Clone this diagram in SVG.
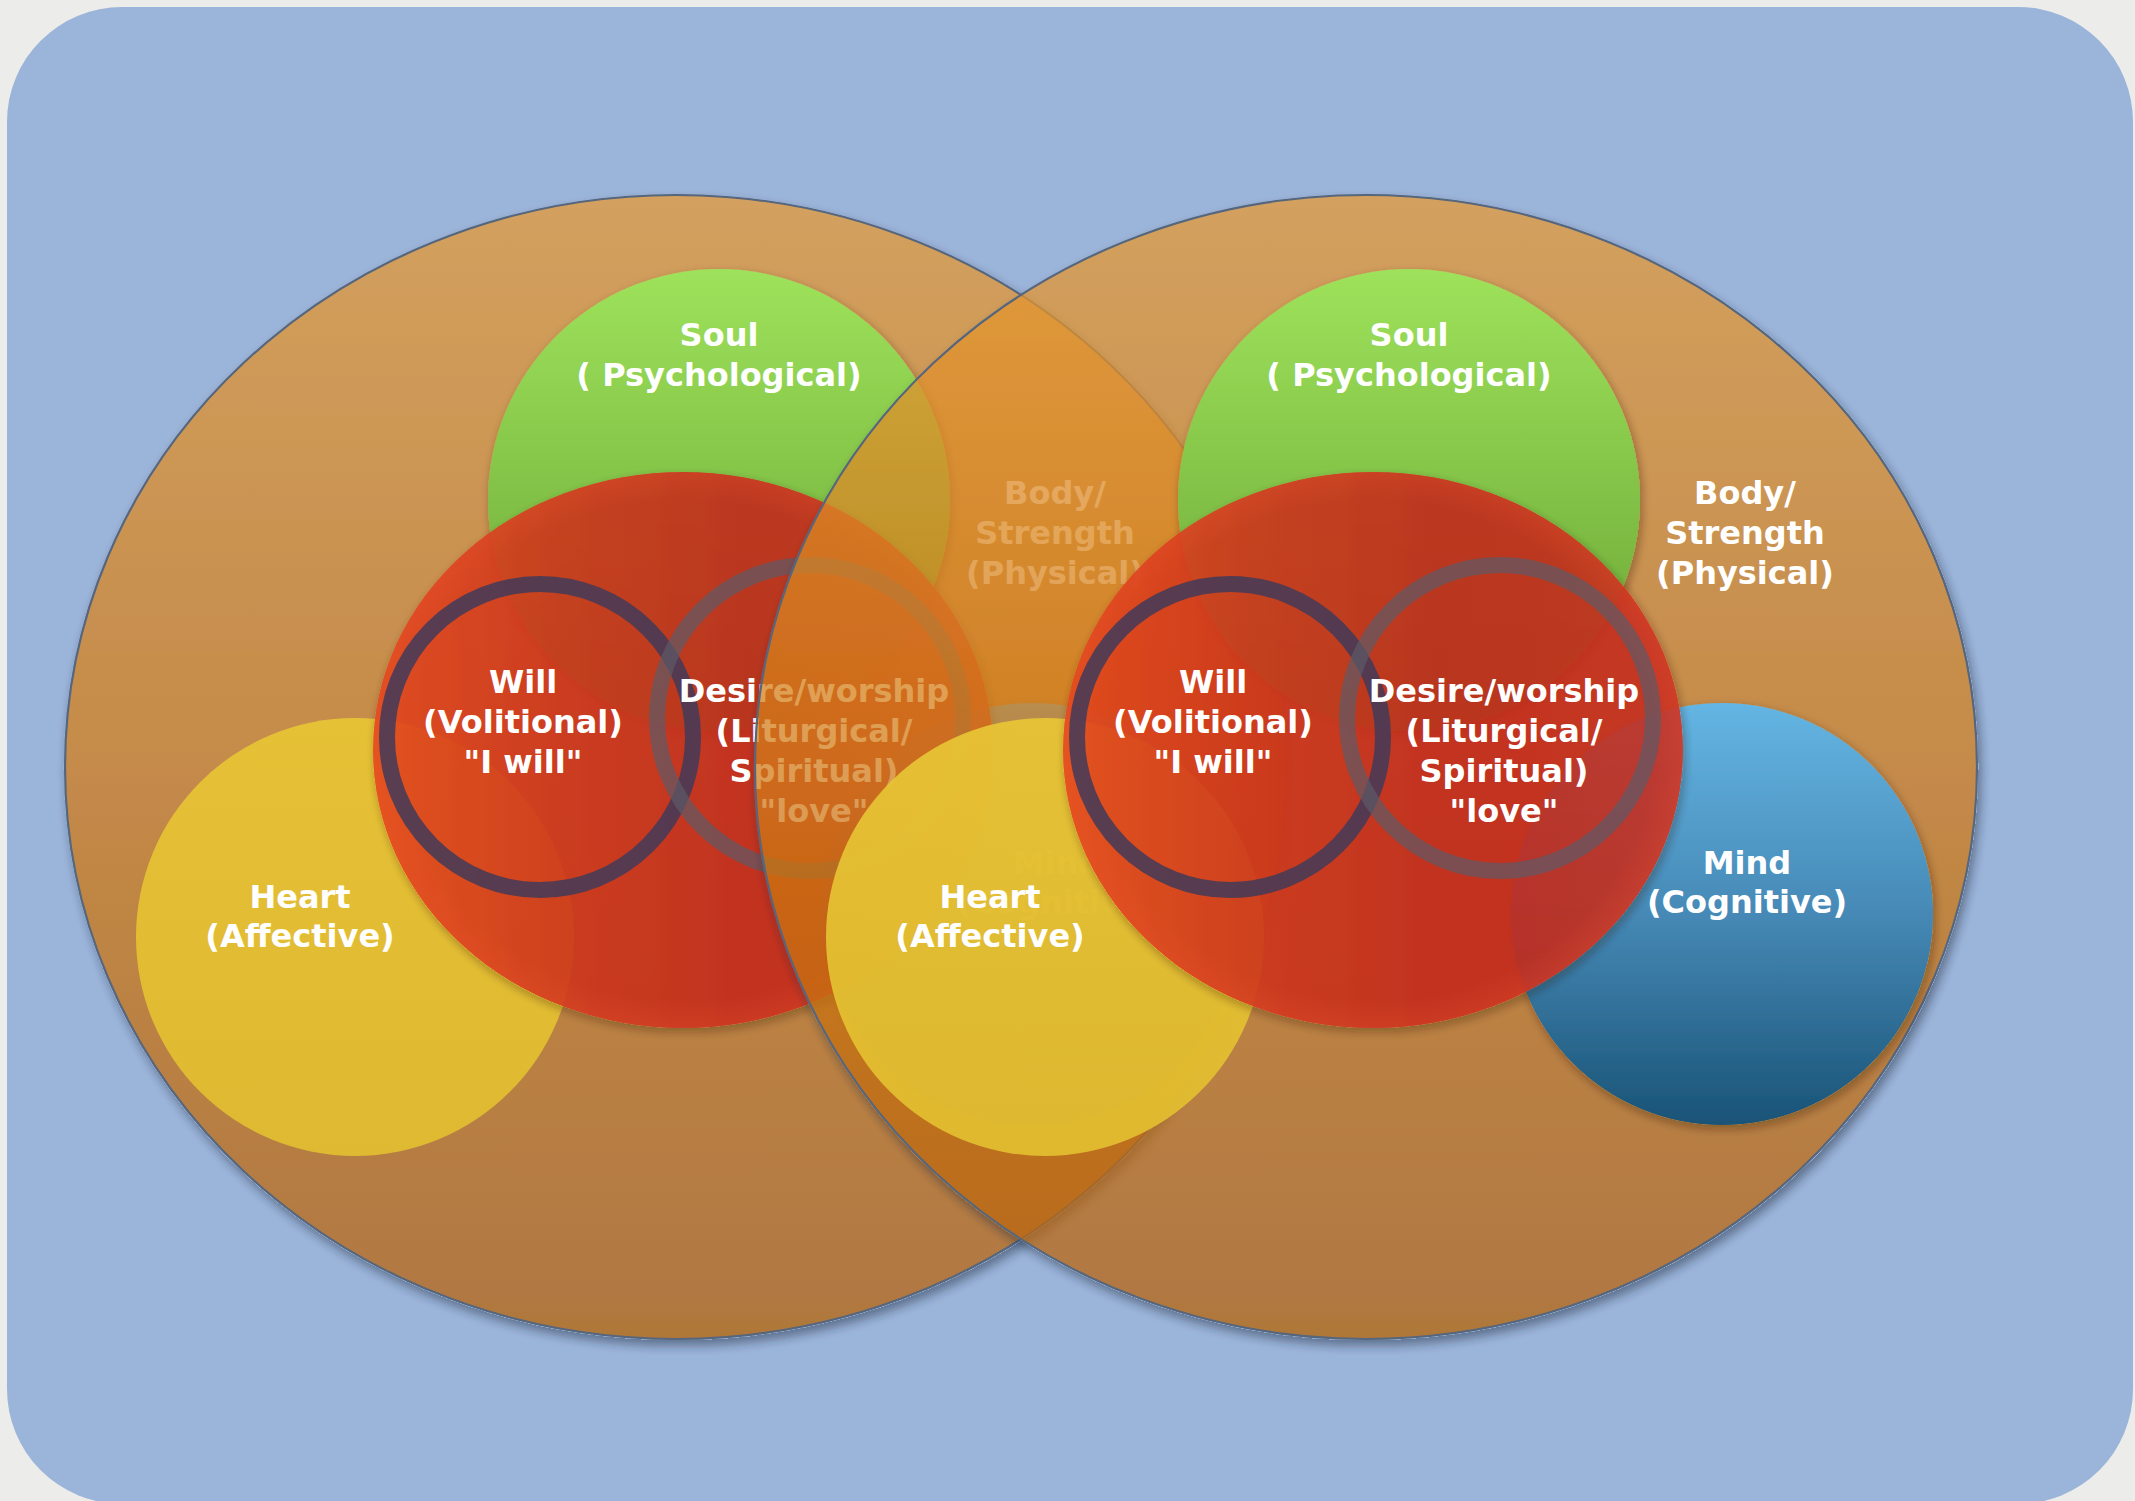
<svg xmlns="http://www.w3.org/2000/svg" width="2135" height="1501" viewBox="0 0 2135 1501">
  <defs>
    <linearGradient id="gBody" x1="0" y1="0" x2="0" y2="1">
      <stop offset="0" stop-color="#E69A35"/>
      <stop offset="0.5" stop-color="#D27C18"/>
      <stop offset="1" stop-color="#B66208"/>
    </linearGradient>
    <linearGradient id="gSoul" x1="0" y1="0" x2="0" y2="1">
      <stop offset="0" stop-color="#9EE25B"/>
      <stop offset="1" stop-color="#66A032"/>
    </linearGradient>
    <linearGradient id="gHeart" x1="0" y1="0" x2="0" y2="1">
      <stop offset="0" stop-color="#E8C535"/>
      <stop offset="1" stop-color="#E2BE30"/>
    </linearGradient>
    <linearGradient id="gMind" x1="0" y1="0" x2="0" y2="1">
      <stop offset="0" stop-color="#64B5E3"/>
      <stop offset="0.5" stop-color="#4689B6"/>
      <stop offset="1" stop-color="#195376"/>
    </linearGradient>
    <linearGradient id="gRed" x1="0" y1="0" x2="1" y2="0">
      <stop offset="0" stop-color="#E2461F"/>
      <stop offset="0.3" stop-color="#CD351F"/>
      <stop offset="0.6" stop-color="#C22B1E"/>
      <stop offset="1" stop-color="#C52E20"/>
    </linearGradient>
    <radialGradient id="gRim" cx="0.5" cy="0.5" r="0.5">
      <stop offset="0.9" stop-color="#F05530" stop-opacity="0"/>
      <stop offset="1" stop-color="#F05530" stop-opacity="0.22"/>
    </radialGradient>
    <filter id="shBig" x="-5%" y="-5%" width="112%" height="115%">
      <feComponentTransfer in="SourceAlpha" result="a"><feFuncA type="linear" slope="20"/></feComponentTransfer>
      <feGaussianBlur in="a" stdDeviation="5"/>
      <feOffset dx="3" dy="6" result="b"/>
      <feFlood flood-color="#1E2A40" flood-opacity="0.45"/>
      <feComposite in2="b" operator="in" result="s"/>
      <feComposite in="s" in2="a" operator="out" result="s2"/>
      <feMerge><feMergeNode in="s2"/><feMergeNode in="SourceGraphic"/></feMerge>
    </filter>
    <filter id="sh" x="-8%" y="-8%" width="120%" height="120%">
      <feComponentTransfer in="SourceAlpha" result="a"><feFuncA type="linear" slope="20"/></feComponentTransfer>
      <feGaussianBlur in="a" stdDeviation="4"/>
      <feOffset dx="2" dy="4" result="b"/>
      <feFlood flood-color="#2A1A00" flood-opacity="0.35"/>
      <feComposite in2="b" operator="in" result="s"/>
      <feComposite in="s" in2="a" operator="out" result="s2"/>
      <feMerge><feMergeNode in="s2"/><feMergeNode in="SourceGraphic"/></feMerge>
    </filter>
  </defs>
  <style>
    .body { fill: url(#gBody); fill-opacity: 0.75; stroke: #56667D; stroke-width: 2.2; }
    .soul { fill: url(#gSoul); }
    .heart { fill: url(#gHeart); opacity: 0.93; }
    .mind { fill: url(#gMind); }
    .red { fill: url(#gRed); opacity: 0.9; }
    .rim { fill: url(#gRim); }
    .will { fill: none; stroke: #463A58; stroke-width: 16; opacity: 0.88; }
    .desire { fill: none; stroke: #5E5A66; stroke-width: 16; opacity: 0.7; }
    text { font-family: "DejaVu Sans", "Liberation Sans", sans-serif; font-weight: bold; font-size: 32px; fill: #FFFFFF; text-anchor: middle; }
  </style>

  <rect x="0" y="0" width="2135" height="1501" fill="#ECECEA"/>
  <rect id="background" x="7" y="7" width="2126" height="1497" rx="115" ry="115" fill="#9BB4D9"/>

  <g id="person-left">
    <ellipse id="left-body" class="body" cx="676" cy="767" rx="611" ry="572" filter="url(#shBig)"/>
    <g id="left-soul">
      <circle class="soul" cx="719" cy="500" r="231" filter="url(#sh)"/>
    </g>
    <g id="left-heart">
      <circle class="heart" cx="355" cy="937" r="219"/>
    </g>
    <g id="left-mind">
      <circle class="mind" cx="1032" cy="914" r="211" filter="url(#sh)"/>
    </g>
    <g id="left-core">
      <ellipse class="red" cx="683" cy="750" rx="310" ry="278" filter="url(#sh)"/>
      <ellipse class="rim" cx="683" cy="750" rx="310" ry="278"/>
    </g>
    <g id="left-will">
      <circle class="will" cx="540" cy="737" r="153"/>
    </g>
    <g id="left-desire">
      <circle class="desire" cx="810" cy="718" r="153"/>
    </g>
    <g id="left-labels">
      <text x="719" y="346">Soul</text>
      <text x="719" y="386">( Psychological)</text>
      <text x="1055" y="504">Body/</text>
      <text x="1055" y="544">Strength</text>
      <text x="1055" y="584">(Physical)</text>
      <text x="523" y="693">Will</text>
      <text x="523" y="733">(Volitional)</text>
      <text x="523" y="773">"I will"</text>
      <text x="814" y="702">Desire/worship</text>
      <text x="814" y="742">(Liturgical/</text>
      <text x="814" y="782">Spiritual)</text>
      <text x="814" y="822">"love"</text>
      <text x="300" y="908">Heart</text>
      <text x="300" y="947">(Affective)</text>
      <text x="1057" y="874">Mind</text>
      <text x="1057" y="913">(Cognitive)</text>
    </g>
  </g>

  <g id="person-right" transform="translate(690,0)">
    <ellipse id="right-body" class="body" cx="676" cy="767" rx="611" ry="572" filter="url(#shBig)"/>
    <g id="right-soul">
      <circle class="soul" cx="719" cy="500" r="231" filter="url(#sh)"/>
    </g>
    <g id="right-heart">
      <circle class="heart" cx="355" cy="937" r="219"/>
    </g>
    <g id="right-mind">
      <circle class="mind" cx="1032" cy="914" r="211" filter="url(#sh)"/>
    </g>
    <g id="right-core">
      <ellipse class="red" cx="683" cy="750" rx="310" ry="278" filter="url(#sh)"/>
      <ellipse class="rim" cx="683" cy="750" rx="310" ry="278"/>
    </g>
    <g id="right-will">
      <circle class="will" cx="540" cy="737" r="153"/>
    </g>
    <g id="right-desire">
      <circle class="desire" cx="810" cy="718" r="153"/>
    </g>
    <g id="right-labels">
      <text x="719" y="346">Soul</text>
      <text x="719" y="386">( Psychological)</text>
      <text x="1055" y="504">Body/</text>
      <text x="1055" y="544">Strength</text>
      <text x="1055" y="584">(Physical)</text>
      <text x="523" y="693">Will</text>
      <text x="523" y="733">(Volitional)</text>
      <text x="523" y="773">"I will"</text>
      <text x="814" y="702">Desire/worship</text>
      <text x="814" y="742">(Liturgical/</text>
      <text x="814" y="782">Spiritual)</text>
      <text x="814" y="822">"love"</text>
      <text x="300" y="908">Heart</text>
      <text x="300" y="947">(Affective)</text>
      <text x="1057" y="874">Mind</text>
      <text x="1057" y="913">(Cognitive)</text>
    </g>
  </g>

  <g id="connectors"/>
</svg>
